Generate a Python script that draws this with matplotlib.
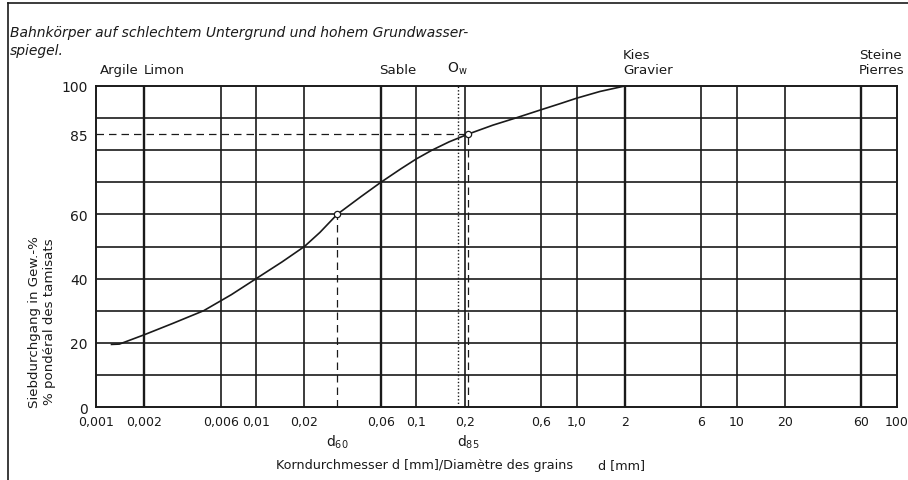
import numpy as np
import matplotlib
matplotlib.use("Agg")
import matplotlib.pyplot as plt

# grain size distribution
grain_d = [0.00125, 0.0014, 0.002, 0.003, 0.0047, 0.007, 0.01, 0.0145, 0.02, 0.025,
           0.032, 0.045, 0.06, 0.08, 0.1, 0.125, 0.16, 0.21, 0.3, 0.415, 0.6, 0.8, 1.0, 1.4, 2.0]
passing = [19.5, 19.6, 22.5, 26, 30, 35, 40, 45.2, 50, 54.4,
           60, 65.5, 70, 74.2, 77.3, 80, 82.6, 85, 87.8, 90, 92.6, 94.6, 96.2, 98.3, 100]

x_ticks = [0.001, 0.002, 0.006, 0.01, 0.02, 0.06, 0.1, 0.2, 0.6, 1.0, 2, 6, 10, 20, 60, 100]
x_labels = ["0,001", "0,002", "0,006", "0,01", "0,02", "0,06", "0,1", "0,2",
            "0,6", "1,0", "2", "6", "10", "20", "60", "100"]
class_limits = [0.002, 0.06, 2, 60]
y_ticks = [0, 20, 40, 60, 85, 100]

d60 = 0.032
d85 = 0.21
d_ow = 0.183

ink = "#1a1a1a"

fig = plt.figure(figsize=(9.08, 4.81), dpi=100)
ax = fig.add_axes([96 / 908, 1 - 408 / 481, 801 / 908, 321 / 481])
ax.set_xscale("log")
ax.set_xlim(0.001, 100)
ax.set_ylim(0, 100)

# grid
for xv in x_ticks[1:-1]:
    lw = 1.7 if xv in class_limits else 1.2
    ax.axvline(xv, color=ink, lw=lw, zorder=1)
for yv in range(10, 100, 10):
    ax.axhline(yv, color=ink, lw=1.2, zorder=1)

# curve
ax.plot(grain_d, passing, color=ink, lw=1.2, zorder=3)

# d60 / d85 helper lines
ax.plot([0.001, d85], [85, 85], color=ink, lw=0.9, ls=(0, (6, 4)), zorder=2)
ax.plot([d60, d60], [0, 60], color=ink, lw=0.9, ls=(0, (6, 4)), zorder=2)
ax.plot([d85, d85], [0, 85], color=ink, lw=0.9, ls=(0, (6, 4)), zorder=2)
ax.plot([d_ow, d_ow], [0, 100], color=ink, lw=1.0, ls=(0, (1, 1.5)), zorder=2)
ax.plot([d60, d85], [60, 85], ls="none", marker="o", ms=4.5, mfc="white",
        mec=ink, mew=0.9, zorder=4)

for s in ax.spines.values():
    s.set_color(ink)
    s.set_linewidth(1.4)

ax.set_xticks(x_ticks)
ax.set_xticklabels(x_labels, fontsize=9)
ax.xaxis.set_minor_locator(matplotlib.ticker.NullLocator())
ax.set_yticks(y_ticks)
ax.set_yticklabels([str(v) for v in y_ticks], fontsize=10)
ax.tick_params(length=0, pad=6, colors=ink)

# d60, d85 under the axis
ax.text(d60, -8, "d$_{60}$", ha="center", va="top", fontsize=10, color=ink)
ax.text(d85, -8, "d$_{85}$", ha="center", va="top", fontsize=10, color=ink)

# soil class names above the axes
ax.text(0.00105, 103, "Argile", fontsize=9.6, color=ink, va="bottom")
ax.text(0.002, 103, "Limon", fontsize=9.6, color=ink, va="bottom")
ax.text(0.076, 103, "Sable", fontsize=9.6, color=ink, va="bottom", ha="center")
ax.text(0.18, 103, "O$_\\mathregular{w}$", fontsize=10, color=ink, va="bottom", ha="center")
ax.text(1.95, 103, "Kies\nGravier", fontsize=9.6, color=ink, va="bottom", linespacing=1.25)
ax.text(58, 103, "Steine\nPierres", fontsize=9.6, color=ink, va="bottom", linespacing=1.25)

# titles
fig.text(10 / 908, 1 - 33 / 481, "Bahnkörper auf schlechtem Untergrund und hohem Grundwasser-",
         fontsize=10, style="italic", color=ink, va="center")
fig.text(10 / 908, 1 - 51 / 481, "spiegel.", fontsize=10, style="italic", color=ink, va="center")
fig.text(42 / 908, 1 - 322 / 481, "Siebdurchgang in Gew.-%\n% pondéral des tamisats",
         rotation=90, fontsize=9.6, color=ink, ha="center", va="center", linespacing=1.15)
fig.text(425 / 908, 1 - 466 / 481, "Korndurchmesser d [mm]/Diamètre des grains",
         fontsize=9.2, color=ink, ha="center", va="center")
fig.text(622 / 908, 1 - 466 / 481, "d [mm]", fontsize=9.2, color=ink, ha="center", va="center")

# outer frame of the scanned figure
fig.add_artist(plt.Line2D([8 / 908, 1], [1 - 4 / 481, 1 - 4 / 481], color=ink, lw=1.2))
fig.add_artist(plt.Line2D([8 / 908, 8 / 908], [0, 1 - 4 / 481], color=ink, lw=1.2))

fig.savefig("out.png", dpi=100)
